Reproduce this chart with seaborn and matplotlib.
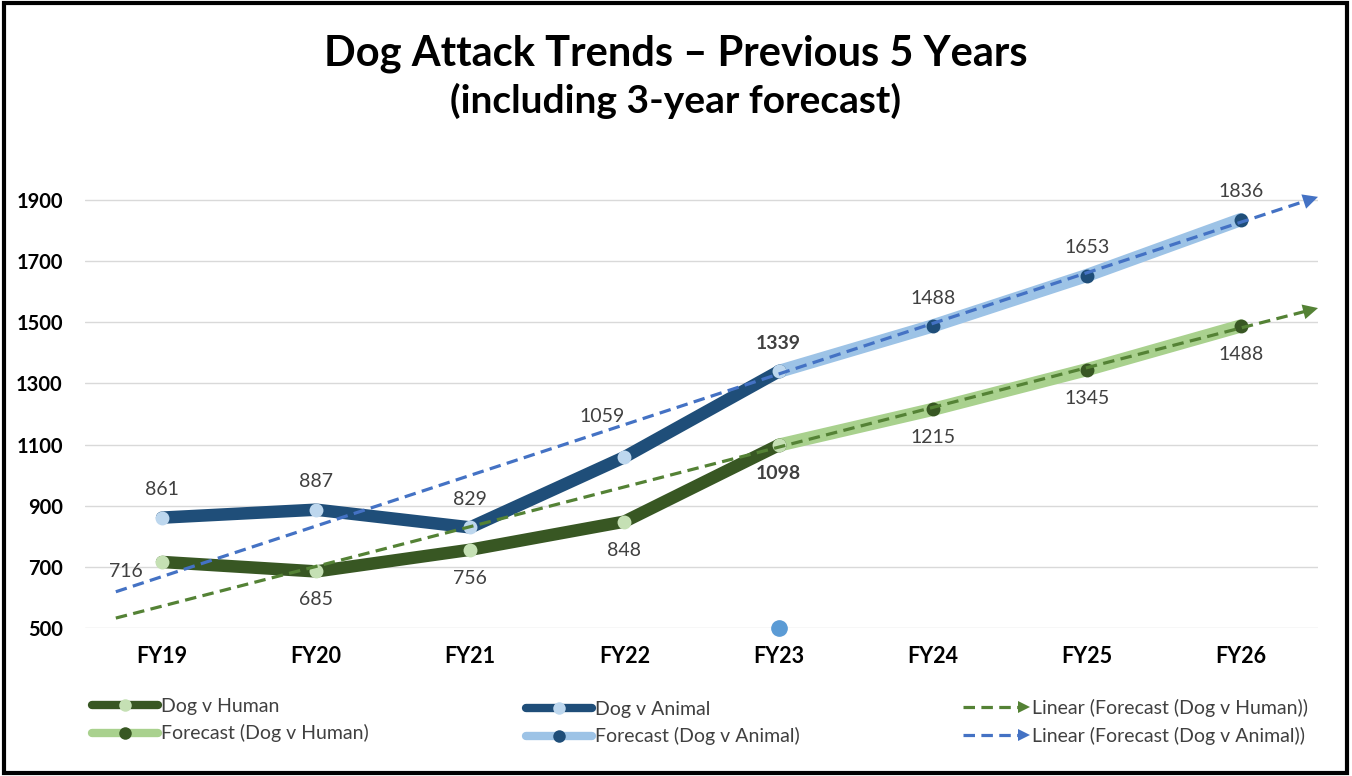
#!/usr/bin/env python3
"""Dog attack trends with a 3-year forecast and linear trendlines."""

import numpy as np
import pandas as pd
import matplotlib
matplotlib.use("Agg")
import matplotlib.pyplot as plt
import seaborn as sns
from matplotlib.lines import Line2D
from matplotlib.patches import Rectangle
from matplotlib.legend_handler import HandlerBase


# Data
YEARS = ["FY19", "FY20", "FY21", "FY22", "FY23", "FY24", "FY25", "FY26"]
ACTUAL_YEARS = ["FY19", "FY20", "FY21", "FY22", "FY23"]
FORECAST_YEARS = ["FY23", "FY24", "FY25", "FY26"]
DOG_V_HUMAN = [716, 685, 756, 848, 1098]
DOG_V_ANIMAL = [861, 887, 829, 1059, 1339]
FORECAST_HUMAN = [1098, 1215, 1345, 1488]
FORECAST_ANIMAL = [1339, 1488, 1653, 1836]
STRAY_YEAR = "FY23"
STRAY_VALUE = 500
Y_TICKS = [500, 700, 900, 1100, 1300, 1500, 1700, 1900]

# Style
sns.set_theme(style="white")
plt.rcParams["font.family"] = ["Lato", "DejaVu Sans"]

DARK_GREEN = "#385723"
LIGHT_GREEN_MK = "#C5E0B4"
FC_GREEN = "#A9D18E"
DARK_BLUE = "#1F4E79"
LIGHT_BLUE_MK = "#BDD7EE"
FC_BLUE = "#9DC3E6"
TREND_GREEN = "#548235"
TREND_BLUE = "#4472C4"
LABEL_GREY = "#404040"
TREND_DASHES = (3.6, 2.0)

POS = {y: i for i, y in enumerate(YEARS)}


class ArrowLineHandler(HandlerBase):
    """Legend handle: dashed line ending in a triangle head."""
    def create_artists(self, legend, orig_handle, xdescent, ydescent,
                       width, height, fontsize, trans):
        y = height / 2 - ydescent
        x0, x1 = -xdescent, width - xdescent
        col = orig_handle.get_color()
        line = Line2D([x0, x1 - 6], [y, y], color=col,
                      lw=orig_handle.get_linewidth(), transform=trans)
        line.set_dashes(TREND_DASHES)
        head = Line2D([x1 - 4], [y], marker=">", markersize=9, color=col,
                      markeredgewidth=0, transform=trans)
        return [line, head]


def frame(years, values):
    return pd.DataFrame({"x": [POS[y] for y in years], "value": values})


fig = plt.figure(figsize=(13.52, 7.76), dpi=100)
ax = fig.add_axes([85 / 1352, (776 - 628) / 776, 1233 / 1352, (628 - 184.7) / 776])

# Actual + forecast lines
series = [
    (ACTUAL_YEARS, DOG_V_HUMAN, DARK_GREEN, LIGHT_GREEN_MK, 9.0, 3),
    (ACTUAL_YEARS, DOG_V_ANIMAL, DARK_BLUE, LIGHT_BLUE_MK, 9.0, 3),
    (FORECAST_YEARS, FORECAST_HUMAN, FC_GREEN, DARK_GREEN, 9.5, 2),
    (FORECAST_YEARS, FORECAST_ANIMAL, FC_BLUE, DARK_BLUE, 9.5, 2),
]
for yrs, vals, lc, mc, lw, z in series:
    sns.lineplot(data=frame(yrs, vals), x="x", y="value", ax=ax, color=lc,
                 linewidth=lw, marker="o", markersize=10, markerfacecolor=mc,
                 markeredgecolor=mc, markeredgewidth=0, zorder=z,
                 solid_joinstyle="round", solid_capstyle="round")

# Linear trendlines fitted on the forecast series (backward 0.3, forward 0.5)
for yrs, vals, col in [(FORECAST_YEARS, FORECAST_HUMAN, TREND_GREEN),
                       (FORECAST_YEARS, FORECAST_ANIMAL, TREND_BLUE)]:
    xs = np.array([POS[y] for y in yrs])
    slope, icpt = np.polyfit(xs, vals, 1)
    x0, x1 = 0 - 0.3, len(YEARS) - 1 + 0.5
    xe = x1 - 0.07
    ax.plot([x0, xe], [icpt + slope * x0, icpt + slope * xe], color=col,
            lw=2.3, dashes=TREND_DASHES, zorder=5, clip_on=False)
    ax.annotate("", xy=(x1, icpt + slope * x1),
                xytext=(x1 - 0.1, icpt + slope * (x1 - 0.1)),
                arrowprops=dict(arrowstyle="-|>,head_length=0.9,head_width=0.45",
                                color=col, lw=0, shrinkA=0, shrinkB=0),
                zorder=5, annotation_clip=False)

# Stray marker at the axis
ax.plot([POS[STRAY_YEAR]], [STRAY_VALUE], "o", color="#5B9BD5", markersize=11,
        zorder=6, clip_on=False)

# Data labels
LABEL_OFFSETS = {"above": (0, 20, "center"), "below": (0, -20.5, "center"),
                 "left": (-14, -7, "right"), "above_left": (-16, 29, "center")}


def label(x, v, where, bold=False):
    dx, dy, ha = LABEL_OFFSETS[where]
    ax.annotate(f"{v}", (x, v), xytext=(dx, dy), textcoords="offset points",
                ha=ha, va="center", fontsize=14, color=LABEL_GREY,
                fontweight="bold" if bold else "normal", zorder=7)


for y, v in zip(ACTUAL_YEARS, DOG_V_ANIMAL):
    label(POS[y], v, "above_left" if y == "FY22" else "above", bold=(y == "FY23"))
for i, (y, v) in enumerate(zip(ACTUAL_YEARS, DOG_V_HUMAN)):
    label(POS[y], v, "left" if i == 0 else "below", bold=(y == "FY23"))
for y, v in zip(FORECAST_YEARS[1:], FORECAST_ANIMAL[1:]):
    label(POS[y], v, "above")
for y, v in zip(FORECAST_YEARS[1:], FORECAST_HUMAN[1:]):
    label(POS[y], v, "below")

# Axes
ax.set_xlim(-0.5, len(YEARS) - 0.5)
ax.set_ylim(500, 1950)
ax.set_xticks(range(len(YEARS)))
ax.set_xticklabels(YEARS)
ax.set_yticks(Y_TICKS)
ax.set_xlabel("")
ax.set_ylabel("")
ax.tick_params(axis="both", length=0, labelcolor="black")
ax.tick_params(axis="x", pad=13, labelsize=15.5)
ax.tick_params(axis="y", pad=16, labelsize=14.5)
for t in ax.get_xticklabels() + ax.get_yticklabels():
    t.set_fontweight("bold")
ax.yaxis.grid(True, color="#D9D9D9", lw=1.0)
ax.xaxis.grid(False)
for s in ax.spines.values():
    s.set_visible(False)
ax.set_facecolor("white")

# Titles
fig.text(0.5, 1 - 54 / 776, "Dog Attack Trends \u2013 Previous 5 Years",
         ha="center", va="center", fontsize=30, fontweight="bold", color="black")
fig.text(0.5, 1 - 101 / 776, "(including 3-year forecast)",
         ha="center", va="center", fontsize=28, fontweight="bold", color="black")


# Legends (three column groups)
def mk_handle(lc, mc, lw):
    return Line2D([0], [0], color=lc, lw=lw, marker="o", markersize=9,
                  markerfacecolor=mc, markeredgewidth=0,
                  solid_capstyle="round")


legend_groups = [
    ([mk_handle(DARK_GREEN, LIGHT_GREEN_MK, 6), mk_handle(FC_GREEN, DARK_GREEN, 6)],
     ["Dog v Human", "Forecast (Dog v Human)"], 92, 720),
    ([mk_handle(DARK_BLUE, LIGHT_BLUE_MK, 6), mk_handle(FC_BLUE, DARK_BLUE, 6)],
     ["Dog v Animal", "Forecast (Dog v Animal)"], 526, 723),
    ([Line2D([0], [0], color=TREND_GREEN, lw=2.3), Line2D([0], [0], color=TREND_BLUE, lw=2.3)],
     ["Linear (Forecast (Dog v Human))", "Linear (Forecast (Dog v Animal))"], 963, 722),
]
handler = ArrowLineHandler()
for handles, labels, xp, yp in legend_groups:
    hmap = {h: handler for h in handles} if labels[0].startswith("Linear") else None
    fig.legend(handles, labels, loc="center left",
               bbox_to_anchor=(xp / 1352, 1 - yp / 776), frameon=False,
               fontsize=14, handlelength=3.4, handletextpad=0.15,
               borderpad=0, borderaxespad=0, labelspacing=0.5,
               labelcolor=LABEL_GREY, handler_map=hmap)

# Outer black frame
fig.add_artist(Rectangle((0.003, 0.004), 0.993, 0.992, transform=fig.transFigure,
                         fill=False, edgecolor="black", lw=3))

fig.savefig("out.png", dpi=100, facecolor="white")
plt.close(fig)
